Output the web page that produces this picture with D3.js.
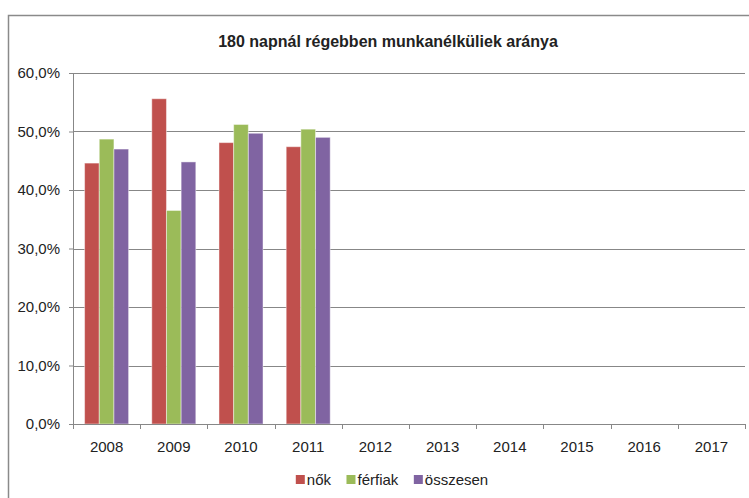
<!DOCTYPE html>
<html>
<head>
<meta charset="utf-8">
<script src="https://cdn.jsdelivr.net/npm/d3@7"></script>
<style>
  body { margin: 0; background: #fff; }
  text { font-family: "Liberation Sans", Arial, sans-serif; fill: #222; }
</style>
</head>
<body>
<div class="chart"></div>
<script>
// data
const years = ["2008","2009","2010","2011","2012","2013","2014","2015","2016","2017"];
const nok = [44.6, 55.6, 48.1, 47.4, null, null, null, null, null, null];
const ferfiak = [48.7, 36.5, 51.2, 50.4, null, null, null, null, null, null];
const osszesen = [47.0, 44.8, 49.7, 49.0, null, null, null, null, null, null];
const yTicks = [0, 10, 20, 30, 40, 50, 60];
const seriesNames = ["nők", "férfiak", "összesen"];
const colors = ["#C0504D", "#9BBB59", "#8064A2"];

let outWidth = 749, outHeight = 498;
let margin = {top:73, left:73, right:4, bottom:74};
let width = outWidth - margin.left - margin.right,
    height = outHeight - margin.top - margin.bottom;

const svg = d3.select('.chart').append('svg')
    .attr("width", outWidth)
    .attr("height", outHeight);

// chart border
svg.append("rect")
    .attr("x", 8.5).attr("y", 15.5)
    .attr("width", 760).attr("height", 520)
    .attr("fill", "none")
    .attr("stroke", "#8a8a8a")
    .attr("stroke-width", 1.5);

svg.append("text")
    .attr("x", 388).attr("y", 47)
    .attr("text-anchor", "middle")
    .style("font-size", "16px")
    .style("font-weight", "bold")
    .text("180 napnál régebben munkanélküliek aránya");

const g = svg.append("g")
    .attr("transform", `translate(${margin.left}, ${margin.top})`);

let xScale = d3.scaleBand()
    .domain(years)
    .range([0, width])
    .paddingInner(0.345)
    .paddingOuter(0.1725);
let yScale = d3.scaleLinear()
    .domain([0, 60])
    .range([height, 0]);

let series = [nok, ferfiak, osszesen];
let inner = d3.scaleBand()
    .domain(d3.range(series.length))
    .range([0, xScale.bandwidth()]);

// gridlines
g.append("g").selectAll("line")
    .data(yTicks.filter(d => d > 0))
    .join("line")
    .attr("x1", 0).attr("x2", width)
    .attr("y1", d => Math.round(yScale(d)) + 0.5)
    .attr("y2", d => Math.round(yScale(d)) + 0.5)
    .attr("stroke", "#878787");

// bars
const rows = [];
years.forEach((y, i) => series.forEach((s, k) => {
    if (s[i] != null) rows.push({year: y, k: k, v: s[i]});
}));

g.append("g").selectAll("rect")
    .data(rows)
    .join("rect")
    .attr("x", d => xScale(d.year) + inner(d.k))
    .attr("y", d => yScale(d.v))
    .attr("width", inner.bandwidth())
    .attr("height", d => height - yScale(d.v))
    .attr("fill", d => colors[d.k])
    .attr("stroke", "#ffffff")
    .attr("stroke-opacity", 0.45)
    .attr("stroke-width", 1);

// y axis
const yAxis = d3.axisLeft(yScale)
    .tickValues(yTicks)
    .tickSize(4)
    .tickPadding(9)
    .tickFormat(d => d3.format(".1f")(d).replace(".", ",") + "%");
const ya = g.append("g").call(yAxis);
ya.selectAll("text").style("font-size", "15px");

// x axis with ticks at the category boundaries
const xa = g.append("g").attr("transform", `translate(0, ${height})`);
xa.append("line")
    .attr("x1", 0).attr("x2", width)
    .attr("y1", 0.5).attr("y2", 0.5)
    .attr("stroke", "#878787");
xa.selectAll(".tk")
    .data(years.concat(["end"]))
    .join("line")
    .attr("class", "tk")
    .attr("x1", (d, i) => Math.round(i * width / years.length) + 0.5)
    .attr("x2", (d, i) => Math.round(i * width / years.length) + 0.5)
    .attr("y1", 0).attr("y2", 5)
    .attr("stroke", "#878787");
xa.selectAll(".lbl")
    .data(years)
    .join("text")
    .attr("class", "lbl")
    .attr("x", d => xScale(d) + xScale.bandwidth() / 2)
    .attr("y", 28)
    .attr("text-anchor", "middle")
    .style("font-size", "15px")
    .text(d => d);

ya.select(".domain").attr("stroke", "#878787");
ya.selectAll(".tick line").attr("stroke", "#878787");

// legend
const legend = svg.append("g").attr("transform", "translate(0, 480)");
let lx = 0;
const items = legend.selectAll("g")
    .data(seriesNames)
    .join("g");
items.append("rect")
    .attr("width", 9).attr("height", 9)
    .attr("y", -5)
    .attr("fill", (d, i) => colors[i]);
items.append("text")
    .attr("x", 11).attr("y", 5)
    .style("font-size", "15px")
    .text(d => d);
items.each(function() {
    const w = this.getBBox().width;
    d3.select(this).attr("transform", `translate(${lx}, 0)`);
    lx += w + 15;
});
legend.attr("transform", `translate(${392 - (lx - 15) / 2}, 480)`);
</script>
</body>
</html>
